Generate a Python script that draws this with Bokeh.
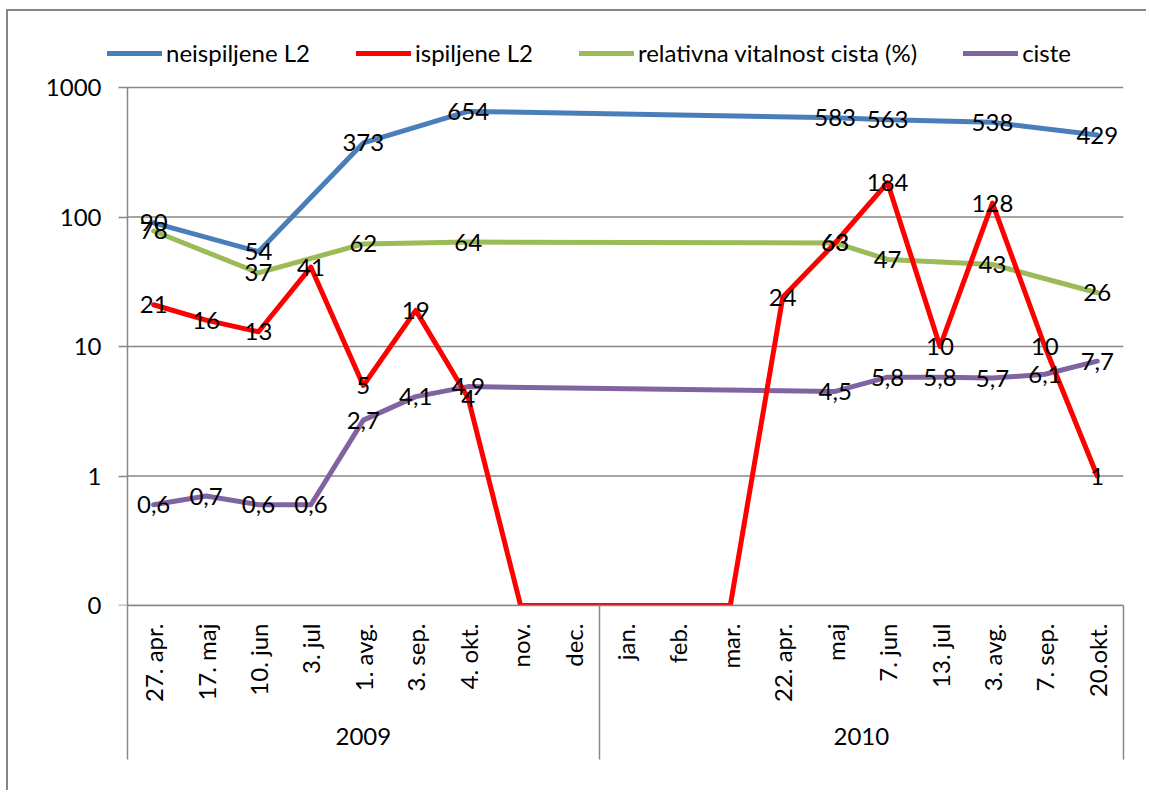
import math
from bokeh.plotting import figure
from bokeh.models import Range1d, LinearAxis, LogAxis, FixedTicker, Legend, LegendItem
from bokeh.core.properties import value
from bokeh.embed import file_html
from bokeh.resources import INLINE

# ---------------- data ----------------
categories = ["27. apr.", "17. maj", "10. jun", "3. jul", "1. avg.", "3. sep.", "4. okt.", "nov.", "dec.",
              "jan.", "feb.", "mar.", "22. apr.", "maj", "7. jun", "13. jul", "3. avg.", "7. sep.", "20.okt."]
years = ["2009"] * 9 + ["2010"] * 10

neispiljene = [90, None, 54, None, 373, None, 654, None, None, None, None, None, None, 583, 563, None, 538, None, 429]
ispiljene = [21, 16, 13, 41, 5, 19, 4, 0, 0, 0, 0, 0, 24, 63, 184, 10, 128, 10, 1]
vitalnost = [78, None, 37, None, 62, None, 64, None, None, None, None, None, None, 63, 47, None, 43, None, 26]
ciste = [0.6, 0.7, 0.6, 0.6, 2.7, 4.1, 4.9, None, None, None, None, None, None, 4.5, 5.8, 5.8, 5.7, 6.1, 7.7]

series_names = ["neispiljene L2", "ispiljene L2", "relativna vitalnost cista (%)", "ciste"]
series_colors = ["#4A7EBB", "#FF0000", "#9BBB59", "#8064A2"]
series_values = [neispiljene, ispiljene, vitalnost, ciste]
draw_order = [0, 2, 3, 1]

y_ticks = [0.1, 1, 10, 100, 1000]
y_tick_labels = ["0", "1", "10", "100", "1000"]

# ---------------- style / layout ----------------
FONT = "Lato"
FS = "24px"
GRAY = "#878787"
Y_MIN = y_ticks[0]
# headroom above the top tick for the legend row (49 px at 129.5 px per decade)
Y_TOP = y_ticks[-1] * 10 ** (49 / 129.5)
# extra room left of the first category so the legend can start left of the y axis
LEFT_PAD = 0.38


def fmt(v):
    if float(v).is_integer():
        return str(int(v))
    return ("%g" % v).replace(".", ",")


xs = list(range(1, len(categories) + 1))
X_START = xs[0] - 0.5
X_END = xs[-1] + 0.5

p = figure(width=1140, height=781,
           x_range=Range1d(X_START - LEFT_PAD, X_END),
           y_range=Range1d(Y_MIN, Y_TOP),
           y_axis_type="log", x_axis_location=None,
           output_backend="svg", toolbar_location=None,
           min_border_left=99, min_border_right=25, min_border_top=27, min_border_bottom=187)
p.styles = {"margin-left": "6px", "margin-top": "9px",
            "border-left": "2px solid #868686", "border-top": "2px solid #868686"}
p.outline_line_color = None
p.background_fill_color = "white"
p.border_fill_color = "white"
p.xgrid.visible = False
p.ygrid.visible = False

# horizontal gridlines between the axis and the right edge
p.segment(x0=[X_START] * len(y_ticks), y0=y_ticks, x1=[X_END] * len(y_ticks), y1=y_ticks,
          line_color=GRAY, line_width=1.5)

# y tick labels (axis at the frame edge, labels only)
ylab = p.yaxis[0]
ylab.ticker = FixedTicker(ticks=y_ticks)
ylab.major_label_overrides = dict(zip(y_ticks, y_tick_labels))
ylab.minor_tick_line_color = None
ylab.major_tick_line_color = None
ylab.major_tick_in = 0
ylab.major_tick_out = 0
ylab.axis_line_color = None
ylab.major_label_text_font = FONT
ylab.major_label_text_font_size = FS
ylab.major_label_text_color = "black"
ylab.major_label_standoff = 6

# y axis line and ticks at the first category boundary
yline = LogAxis(ticker=FixedTicker(ticks=y_ticks), fixed_location=X_START,
                bounds=(y_ticks[0], y_ticks[-1]),
                major_label_overrides={t: "" for t in y_ticks},
                major_label_standoff=0,
                minor_tick_line_color=None,
                major_tick_in=0, major_tick_out=9,
                major_tick_line_color=GRAY, major_tick_line_width=1.5,
                axis_line_color=GRAY, axis_line_width=1.5)
p.add_layout(yline, "left")

# category axis
ax1 = LinearAxis(ticker=FixedTicker(ticks=xs, minor_ticks=[]),
                 bounds=(X_START, X_END),
                 major_label_overrides={x: c for x, c in zip(xs, categories)},
                 major_label_orientation=math.pi / 2,
                 major_tick_line_color=None, minor_tick_line_color=None,
                 major_tick_in=0, major_tick_out=0,
                 axis_line_color=GRAY, axis_line_width=1.5,
                 major_label_standoff=18,
                 major_label_text_font=FONT, major_label_text_font_size=FS,
                 major_label_text_color="black")
p.add_layout(ax1, "below")

# year (group) axis with separators
group_names = []
group_first = {}
group_last = {}
for i, yname in enumerate(years):
    if yname not in group_first:
        group_names.append(yname)
        group_first[yname] = xs[i]
    group_last[yname] = xs[i]
group_centers = [(group_first[g] + group_last[g]) / 2 for g in group_names]
group_bounds = [X_START] + [group_last[g] + 0.5 for g in group_names]

ax2 = LinearAxis(ticker=FixedTicker(ticks=group_centers, minor_ticks=group_bounds),
                 major_label_overrides={c: g for c, g in zip(group_centers, group_names)},
                 major_tick_line_color=None,
                 major_tick_in=0, major_tick_out=0,
                 minor_tick_line_color=GRAY, minor_tick_line_width=1.5,
                 minor_tick_in=99, minor_tick_out=55,
                 axis_line_color=None,
                 major_label_standoff=-32,
                 major_label_text_font=FONT, major_label_text_font_size=FS,
                 major_label_text_color="black")
p.add_layout(ax2, "below")

renderers = {}
for k in draw_order:
    vals = series_values[k]
    px = [x for x, v in zip(xs, vals) if v is not None]
    py = [max(v, Y_MIN) for v in vals if v is not None]
    renderers[k] = p.line(x=px, y=py, line_color=series_colors[k], line_width=5,
                          line_join="round", line_cap="round")

for k in range(len(series_values)):
    vals = series_values[k]
    lx = [x for x, v in zip(xs, vals) if v is not None and v > 0]
    ly = [v for v in vals if v is not None and v > 0]
    lt = [fmt(v) for v in vals if v is not None and v > 0]
    p.text(x=lx, y=ly, text=lt, text_align="center", text_baseline="middle",
           text_font=value(FONT), text_font_size=FS, text_color="black")

legend = Legend(items=[LegendItem(label=series_names[k], renderers=[renderers[k]]) for k in range(4)],
                orientation="horizontal", location="top_left",
                glyph_width=55, glyph_height=24, label_height=24, label_standoff=4,
                spacing=46, padding=0, margin=0,
                border_line_color=None, background_fill_alpha=0,
                label_text_font=FONT, label_text_font_size=FS, label_text_color="black")
p.add_layout(legend)

open("out.html", "w").write(file_html(p, INLINE))
